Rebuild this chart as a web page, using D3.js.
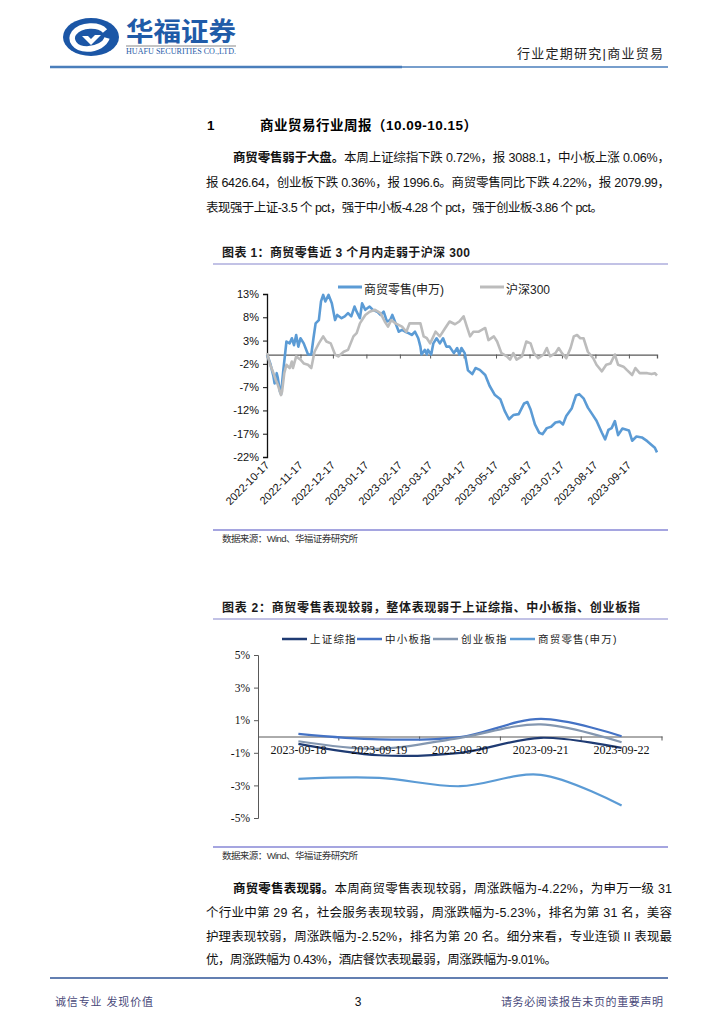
<!DOCTYPE html>
<html lang="zh">
<head>
<meta charset="UTF-8">
<title>商业贸易行业周报</title>
<script src="https://cdn.jsdelivr.net/npm/d3@7/dist/d3.min.js"></script>
<style>
  body { margin: 0; background: #fff; }
  svg { display: block; }
</style>
</head>
<body>
<script>
// chart 1: cumulative return since 2022-10-17, days offset from start
const startDay = "2022-10-17";
const endDay = "2023-10-13";
const retailDays = [0,3,6,7,9,10,12,13,15,18,21,23,25,27,29,31,34,38,41,43,45,48,50,52,54,57,60,63,65,69,72,75,78,81,83,86,88,91,95,98,102,105,108,111,114,116,119,122,125,128,131,134,137,140,142,143,146,148,149,152,154,157,160,163,166,169,173,176,178,180,183,186,190,193,197,202,206,211,216,220,224,228,233,238,241,244,248,252,255,259,263,267,271,274,277,282,286,289,293,297,301,305,310,313,316,319,322,325,329,335,338,342,347,352,356,359,361];
const retailVals = [0,-1.9,-4.7,-6.2,-4.0,-5.0,-8.0,-8.5,-3.6,2.8,2.4,3.5,2.0,4.2,1.7,3.5,2.4,0,0,3.5,6.7,7.4,11.4,12.8,11.4,12.8,11.0,7.4,8.5,7.8,8.2,8.9,8.2,10.3,9.2,7.8,11.0,9.6,10.3,9.6,9.2,8.5,9.2,7.1,7.4,8.5,6.7,4.9,5.3,4.9,4.6,4.2,4.9,3.5,1.7,0,1.0,0,1.0,0,2.4,3.5,2.4,3.5,1.7,1.7,0.3,1.4,0,1.4,0.3,-3.4,-4.2,-2.9,-3.3,-4.4,-6.7,-8.7,-9.6,-12.1,-13.9,-13.0,-12.8,-10.5,-10.2,-11.8,-15.0,-16.8,-17.1,-15.8,-15.5,-14.6,-14.4,-15.0,-13.2,-11.6,-8.8,-8.5,-9.4,-11.4,-12.8,-14.2,-16.8,-18.2,-16.2,-15.8,-14.3,-17.3,-15.9,-16.3,-18.5,-17.6,-17.8,-18.6,-19.4,-20.0,-21.0];
const hs300Days = [0,3,6,8,10,13,14,16,18,21,23,24,27,31,34,38,41,44,48,52,55,59,63,66,71,75,80,83,86,91,95,100,105,109,112,115,119,125,129,132,137,142,145,148,151,156,160,165,169,174,178,182,185,188,191,196,202,205,210,213,217,222,225,228,231,236,240,244,247,251,256,259,262,267,270,273,277,281,284,287,290,293,297,302,305,310,314,318,322,325,330,333,338,341,345,352,356,359,361];
const hs300Vals = [0.3,-2.2,-4.0,-5.4,-6.5,-8.7,-7.9,-4.0,-2.2,-2.9,-1.5,-2.9,-0.4,-1.1,-1.9,-2.2,-2.9,0.6,2.4,3.9,2.8,2.4,0,-0.4,0.6,1.0,3.9,4.6,6.7,8.5,9.2,9.6,8.9,7.1,6.0,7.4,6.7,6.0,4.9,6.7,6.7,6.7,3.9,3.5,2.4,4.9,3.9,5.7,7.1,6.5,7.1,8.2,6.0,3.9,4.9,4.9,5.7,3.1,3.9,2.8,0.3,-0.4,-1.1,0.3,-1.1,-0.4,2.8,2.4,0.3,-0.8,0,1.4,-0.4,0.3,1.4,0.3,-0.8,1.4,3.9,4.2,3.5,3.5,0.6,-0.8,-2.2,-3.6,-2.2,-1.9,0,-2.2,-2.6,-3.3,-4.4,-2.9,-4.0,-4.0,-4.2,-4.0,-4.5];
const yTicks1 = [13,8,3,-2,-7,-12,-17,-22];

// chart 2: weekly performance
const weekDays = ["2023-09-18","2023-09-19","2023-09-20","2023-09-21","2023-09-22"];
const szIndex = [-0.45,-1.15,-1.0,-0.08,-0.7];
const smeIndex = [0.16,-0.18,-0.04,1.08,0.02];
const gemIndex = [-0.29,-0.76,-0.08,0.74,-0.35];
const retailWeek = [-2.6,-2.54,-3.05,-2.35,-4.23];
const yTicks2 = [5,3,1,-1,-3,-5];

const cjk = '"Liberation Sans", "Noto Sans CJK SC", sans-serif';
const serif = '"Liberation Serif", "Noto Sans CJK SC", serif';

const svg = d3.select("body").append("svg")
  .attr("width", 724).attr("height", 1024)
  .style("font-family", cjk);

// ---- header ----
const logo = svg.append("g").attr("transform", "translate(91,37)");
logo.append("ellipse").attr("rx", 28).attr("ry", 19).attr("fill", "#1b56a6");
logo.append("path")
  .attr("d", "M14,-6 C8,-13 -10,-13 -17,-4 C-22,3 -16,12 -4,12 C6,12 14,7 16,1")
  .attr("fill", "none").attr("stroke", "#fff").attr("stroke-width", 5.5);
logo.append("path")
  .attr("d", "M-9,-1 L0,8 L10,-2 L4,-2 L0,2 L-3,-1 Z")
  .attr("fill", "#fff");
svg.append("text").attr("x", 126).attr("y", 41)
  .attr("textLength", 110).attr("lengthAdjust", "spacingAndGlyphs")
  .style("font-size", "26px").style("font-weight", "bold").attr("fill", "#1f5ba8")
  .text("华福证券");
svg.append("line").attr("x1", 126).attr("x2", 236).attr("y1", 46).attr("y2", 46)
  .attr("stroke", "#b0b0b0").attr("stroke-width", 1.5);
svg.append("text").attr("x", 126).attr("y", 54)
  .attr("textLength", 110).attr("lengthAdjust", "spacingAndGlyphs")
  .style("font-family", serif).style("font-size", "7.5px").attr("fill", "#1f5ba8")
  .text("HUAFU SECURITIES CO.,LTD.");
svg.append("text").attr("x", 517).attr("y", 58)
  .attr("textLength", 146).attr("lengthAdjust", "spacing")
  .style("font-size", "13px").attr("fill", "#222")
  .text("行业定期研究|商业贸易");
svg.append("line").attr("x1", 50).attr("x2", 402).attr("y1", 67).attr("y2", 67)
  .attr("stroke", "#4a7ebb").attr("stroke-width", 2.5);
svg.append("line").attr("x1", 402).attr("x2", 668).attr("y1", 67).attr("y2", 67)
  .attr("stroke", "#4a7ebb").attr("stroke-width", 1.5);

// ---- text blocks ----
svg.append("text").attr("x", 207).attr("y", 130)
  .style("font-size", "13.5px").style("font-weight", "bold").text("1");
svg.append("text").attr("x", 260).attr("y", 130)
  .attr("textLength", 217).attr("lengthAdjust", "spacing")
  .style("font-size", "13.5px").style("font-weight", "bold")
  .text("商业贸易行业周报（10.09-10.15）");

function para(lines, ys) {
  lines.forEach((ln, i) => {
    const t = svg.append("text").attr("x", ln.x).attr("y", ys[i])
      .attr("textLength", ln.w).attr("lengthAdjust", "spacing")
      .style("font-size", "12.5px").attr("fill", "#111");
    if (ln.bold) t.append("tspan").style("font-weight", "bold").text(ln.bold);
    t.append("tspan").text(ln.text);
  });
}
para([
  {x: 233, w: 437, bold: "商贸零售弱于大盘。", text: "本周上证综指下跌 0.72%，报 3088.1，中小板上涨 0.06%，"},
  {x: 206, w: 464, text: "报 6426.64，创业板下跌 0.36%，报 1996.6。商贸零售同比下跌 4.22%，报 2079.99，"},
  {x: 206, w: 397, text: "表现强于上证-3.5 个 pct，强于中小板-4.28 个 pct，强于创业板-3.86 个 pct。"}
], [162, 187, 212]);

para([
  {x: 233, w: 439, bold: "商贸零售表现弱。", text: "本周商贸零售表现较弱，周涨跌幅为-4.22%，为申万一级 31"},
  {x: 206, w: 466, text: "个行业中第 29 名，社会服务表现较弱，周涨跌幅为-5.23%，排名为第 31 名，美容"},
  {x: 206, w: 466, text: "护理表现较弱，周涨跌幅为-2.52%，排名为第 20 名。细分来看，专业连锁 II 表现最"},
  {x: 206, w: 351, text: "优，周涨跌幅为 0.43%，酒店餐饮表现最弱，周涨跌幅为-9.01%。"}
], [893, 917, 941, 964]);

// chart frames
function frame(title, titleW, yTitle, yTop, yBottom) {
  svg.append("text").attr("x", 222).attr("y", yTitle)
    .attr("textLength", titleW).attr("lengthAdjust", "spacing")
    .style("font-size", "12px").style("font-weight", "bold").attr("fill", "#1a1a1a")
    .text(title);
  svg.append("line").attr("x1", 213).attr("x2", 668).attr("y1", yTop).attr("y2", yTop)
    .attr("stroke", "#8585cc").attr("stroke-width", 1);
  svg.append("line").attr("x1", 213).attr("x2", 668).attr("y1", yBottom).attr("y2", yBottom)
    .attr("stroke", "#4d4dc2").attr("stroke-width", 1.2);
  svg.append("text").attr("x", 222).attr("y", yBottom + 12)
    .attr("textLength", 136).attr("lengthAdjust", "spacing")
    .style("font-size", "9.5px").attr("fill", "#333")
    .text("数据来源：Wind、华福证券研究所");
}
frame("图表 1：商贸零售近 3 个月内走弱于沪深 300", 248, 257, 264, 530);
frame("图表 2：商贸零售表现较弱，整体表现弱于上证综指、中小板指、创业板指", 418, 612, 619, 847);

// ---- chart 1 ----
const parse = d3.timeParse("%Y-%m-%d");
const t0 = parse(startDay);
const x1 = d3.scaleTime().domain([t0, parse(endDay)]).range([267, 657]);
const y1 = d3.scaleLinear().domain([-22, 13]).range([457, 294]);

const g1 = svg.append("g");
const monthTicks = d3.range(12).map(i => d3.timeMonth.offset(t0, i));
const xAxis1 = g1.append("g").attr("transform", `translate(0,${y1(0)})`)
  .call(d3.axisBottom(x1).tickValues(monthTicks).tickSize(4).tickFormat(""));
xAxis1.select(".domain").attr("stroke", "#595959").attr("stroke-width", 1.3);
xAxis1.selectAll(".tick line").attr("stroke", "#595959");
g1.selectAll(".xlab").data(monthTicks).join("text")
  .attr("class", "xlab")
  .attr("transform", d => `translate(${x1(d) + 3},${466}) rotate(-45)`)
  .attr("text-anchor", "end")
  .style("font-size", "11px").attr("fill", "#111")
  .text(d3.timeFormat("%Y-%m-%d"));

const yAxis1 = g1.append("g").attr("transform", "translate(267,0)")
  .call(d3.axisLeft(y1).tickValues(yTicks1).tickSize(4).tickPadding(4).tickFormat(d => d + "%"));
yAxis1.select(".domain").attr("stroke", "#111").attr("stroke-width", 1.3);
yAxis1.selectAll(".tick line").attr("stroke", "#111");
yAxis1.selectAll(".tick text").style("font-size", "11px").style("font-family", cjk).attr("fill", "#111");

const line1 = d3.line().x(d => x1(d[0])).y(d => y1(d[1]));
const retailSeries = retailDays.map((d, i) => [d3.timeDay.offset(t0, d), retailVals[i]]);
const hsSeries = hs300Days.map((d, i) => [d3.timeDay.offset(t0, d), hs300Vals[i]]);
g1.append("path").datum(retailSeries).attr("d", line1)
  .attr("fill", "none").attr("stroke", "#5b9bd5").attr("stroke-width", 2.6).attr("stroke-linejoin", "round");
g1.append("path").datum(hsSeries).attr("d", line1)
  .attr("fill", "none").attr("stroke", "#bcbcbc").attr("stroke-width", 2.6).attr("stroke-linejoin", "round");

const leg1 = [{name: "商贸零售(申万)", color: "#5b9bd5", x: 338}, {name: "沪深300", color: "#bcbcbc", x: 480}];
leg1.forEach(l => {
  g1.append("line").attr("x1", l.x).attr("x2", l.x + 24).attr("y1", 287).attr("y2", 287)
    .attr("stroke", l.color).attr("stroke-width", 3);
  g1.append("text").attr("x", l.x + 26).attr("y", 294)
    .style("font-size", "12px").attr("fill", "#222").text(l.name);
});

// ---- chart 2 ----
const x2 = d3.scaleBand().domain(weekDays).range([258, 662]);
const y2 = d3.scaleLinear().domain([-5, 5]).range([818, 655]);
const g2 = svg.append("g");

const yAxis2 = g2.append("g").attr("transform", "translate(258,0)")
  .call(d3.axisLeft(y2).tickValues(yTicks2).tickSize(4).tickPadding(4).tickFormat(d => d + "%"));
yAxis2.select(".domain").attr("stroke", "#595959");
yAxis2.selectAll(".tick line").attr("stroke", "#595959");
yAxis2.selectAll(".tick text").style("font-size", "11.5px").style("font-family", serif).attr("fill", "#111");

const xAxis2 = g2.append("g").attr("transform", `translate(0,${y2(0)})`)
  .call(d3.axisBottom(x2).tickSize(0).tickPadding(0).tickFormat(""));
xAxis2.select(".domain").attr("stroke", "#595959");
g2.selectAll(".bt").data(weekDays).join("line")
  .attr("x1", d => x2(d) + x2.bandwidth()).attr("x2", d => x2(d) + x2.bandwidth())
  .attr("y1", y2(0)).attr("y2", y2(0) + 4).attr("stroke", "#595959");

const series2 = [
  {name: "上证综指", vals: szIndex, color: "#1f3b73"},
  {name: "中小板指", vals: smeIndex, color: "#4472c4"},
  {name: "创业板指", vals: gemIndex, color: "#8497b0"},
  {name: "商贸零售(申万)", vals: retailWeek, color: "#5b9bd5"}
];
const line2 = d3.line().x((d, i) => x2(weekDays[i]) + x2.bandwidth() / 2).y(d => y2(d))
  .curve(d3.curveCatmullRom.alpha(0.5));
series2.forEach(s => {
  g2.append("path").datum(s.vals).attr("d", line2)
    .attr("fill", "none").attr("stroke", s.color).attr("stroke-width", 2.2);
});

g2.selectAll(".xlab2").data(weekDays).join("text")
  .attr("x", d => x2(d) + x2.bandwidth() / 2).attr("y", 754)
  .attr("text-anchor", "middle")
  .style("font-family", serif).style("font-size", "12px").attr("fill", "#111")
  .text(d => d);

const legX = [282, 357, 433, 510];
series2.forEach((s, i) => {
  g2.append("line").attr("x1", legX[i]).attr("x2", legX[i] + 25).attr("y1", 639).attr("y2", 639)
    .attr("stroke", s.color).attr("stroke-width", 2.5);
  g2.append("text").attr("x", legX[i] + 28).attr("y", 643)
    .style("font-size", "10.5px").style("letter-spacing", "1.2px").attr("fill", "#222").text(s.name);
});

// ---- footer ----
svg.append("line").attr("x1", 50).attr("x2", 668).attr("y1", 978).attr("y2", 978)
  .attr("stroke", "#2f5597").attr("stroke-width", 1.5);
svg.append("text").attr("x", 55).attr("y", 1006)
  .attr("textLength", 98).attr("lengthAdjust", "spacing")
  .style("font-size", "11px").attr("fill", "#4a4a7a").text("诚信专业  发现价值");
svg.append("text").attr("x", 358).attr("y", 1006).attr("text-anchor", "middle")
  .style("font-size", "12px").attr("fill", "#111").text("3");
svg.append("text").attr("x", 501).attr("y", 1006)
  .attr("textLength", 162).attr("lengthAdjust", "spacing")
  .style("font-size", "11px").attr("fill", "#4a4a7a").text("请务必阅读报告末页的重要声明");
</script>
</body>
</html>
